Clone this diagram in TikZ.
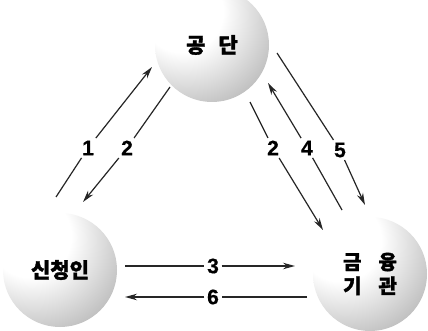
\documentclass[tikz,border=0pt]{standalone}
\usepackage{fontspec}
\setmainfont{Liberation Sans}[BoldFeatures={FakeBold=0.6}]
\newfontfamily\krfont{Noto Sans CJK KR}[BoldFeatures={FakeBold=1.5}]
\usetikzlibrary{arrows.meta}
\pgfdeclareradialshading{spherelight}{\pgfpoint{-16bp}{18bp}}{%
  color(0bp)=(white); color(18bp)=(white); color(32bp)=(black!16);
  color(46bp)=(black!32); color(58bp)=(black!48); color(66bp)=(black!66); color(72bp)=(black!78); color(100bp)=(black!78)}
\tikzset{
  sphere/.style={circle, minimum size=114pt, inner sep=0pt, shading=spherelight,
    font=\krfont\bfseries\fontsize{21}{25}\selectfont, align=center},
  num/.style={font=\bfseries\fontsize{21}{22}\selectfont, inner sep=2.5pt},
  conn/.style={line width=1.2pt, draw=black!85},
  tip/.style={-{Stealth[length=12pt,width=6.5pt]}}
}
\begin{document}
\begin{tikzpicture}[x=1pt,y=1pt]
\useasboundingbox (0,0) rectangle (428,-331);
\fill[white] (0,0) rectangle (428,-331);
% spheres
\node[sphere] (gd) at (212,-45) {공\hspace{13pt}단};
\node[sphere] (sc) at (60,-270) {신청인};
\node[sphere, font=\krfont\bfseries\fontsize{20}{24}\selectfont] (gy) at (370,-274) {금\hspace{17pt}융\\기\hspace{17pt}관};
% end points
\coordinate (s1) at (56,-197);  \coordinate (e1) at (152,-67);
\coordinate (s2) at (170,-87);  \coordinate (e2) at (83,-202);
\coordinate (s2r) at (250,-102); \coordinate (e2r) at (323,-230);
\coordinate (s4) at (342,-210); \coordinate (e4) at (268,-83);
\coordinate (s5) at (277,-53);  \coordinate (e5) at (365,-205);
\coordinate (s3) at (125,-266); \coordinate (e3) at (295,-266);
\coordinate (s6) at (307,-297); \coordinate (e6) at (125,-297);
% labels
\node[num] (l1) at (88,-148) {1};
\node[num] (l2) at (127,-148) {2};
\node[num] (l2r) at (273,-148) {2};
\node[num] (l4) at (307,-148) {4};
\node[num] (l5) at (340,-150) {5};
\node[num] (l3) at (213,-266) {3};
\node[num] (l6) at (213,-297) {6};
% connectors
\draw[conn,tip] (s1) -- (l1) -- (e1);
\draw[conn,tip] (s2) -- (l2) -- (e2);
\draw[conn,tip] (s2r) -- (l2r) -- (e2r);
\draw[conn,tip] (s4) -- (l4) -- (e4);
\draw[conn,tip] (s5) -- (l5) -- (e5);
\draw[conn,tip] (s3) -- (l3) -- (e3);
\draw[conn,tip] (s6) -- (l6) -- (e6);
\end{tikzpicture}
\end{document}
